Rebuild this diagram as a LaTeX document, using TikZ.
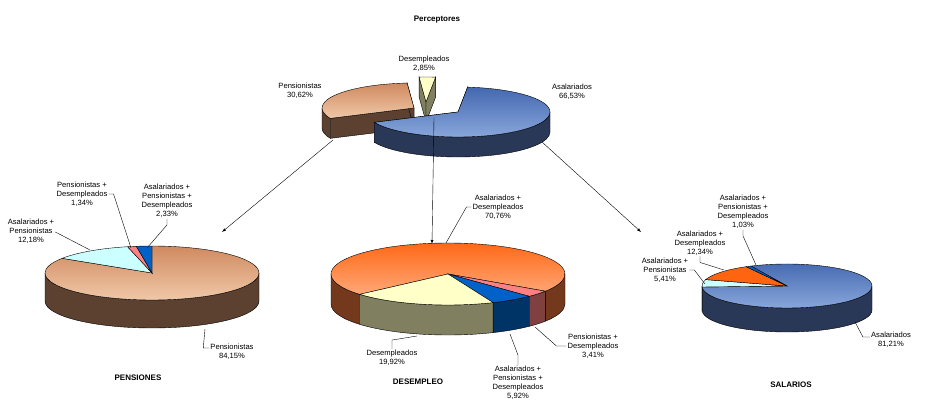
\documentclass[tikz,border=0pt]{standalone}
\usepackage{fontspec}
\setmainfont{Liberation Sans}
\usetikzlibrary{calc}

\tikzset{
  pieline/.style={draw=black, line width=.4pt},
  lbl/.style={font=\fontsize{7.6}{9}\selectfont, align=center, inner sep=1pt},
  ttl/.style={font=\bfseries\fontsize{8}{10}\selectfont, inner sep=1pt},
  leader/.style={line width=.4pt},
}

% radial wall of a slice
\newcommand\piewall[4]{%
  \filldraw[fill=#4,pieline] (#1,#2) -- ({#1+\prx*cos(#3)},{#2+\pry*sin(#3)})
    -- ++(0,\pdep) -- (#1,#2+\pdep) -- cycle;}
% one band of the rim
\newcommand\pieband[5]{%
  \filldraw[fill=#5,pieline] ({#1+\prx*cos(#3)},{#2+\pry*sin(#3)})
    arc[start angle=#3,end angle=#4,x radius=\prx,y radius=\pry] -- ++(0,\pdep)
    arc[start angle=#4,end angle=#3,x radius=\prx,y radius=\pry] -- cycle;}
% visible rim of a slice
\newcommand\pieside[5]{%
  \pgfmathsetmacro\sa{max(#3,0)}\pgfmathsetmacro\sb{min(#4,180)}%
  \pgfmathtruncatemacro\ok{\sb>\sa}%
  \ifnum\ok=1 \pieband{#1}{#2}{\sa}{\sb}{#5}\fi
  \pgfmathsetmacro\sa{max(#3,360)}\pgfmathsetmacro\sb{min(#4,540)}%
  \pgfmathtruncatemacro\ok{\sb>\sa}%
  \ifnum\ok=1 \pieband{#1}{#2}{\sa}{\sb}{#5}\fi}
% top face of a slice
\newcommand\pietop[6]{%
  \draw[pieline,top color=#5,bottom color=#6] (#1,#2)
    -- ({#1+\prx*cos(#3)},{#2+\pry*sin(#3)})
    arc[start angle=#3,end angle=#4,x radius=\prx,y radius=\pry] -- cycle;}

\definecolor{asalT}{HTML}{4468B0}
\definecolor{asalB}{HTML}{8AA8DC}
\definecolor{asalS}{HTML}{2A3858}
\definecolor{pensT}{HTML}{D08A60}
\definecolor{pensB}{HTML}{F0C8A8}
\definecolor{pensS}{HTML}{5C4030}
\definecolor{desT}{HTML}{FFFFC8}
\definecolor{desS}{HTML}{808060}
\definecolor{oraT}{HTML}{FF6410}
\definecolor{oraB}{HTML}{FFA878}
\definecolor{oraS}{HTML}{74381C}
\definecolor{cyaT}{HTML}{CCFFFF}
\definecolor{cyaS}{HTML}{80A0A0}
\definecolor{pinT}{HTML}{FF8080}
\definecolor{pinS}{HTML}{804040}
\definecolor{bluT}{HTML}{0062C8}
\definecolor{bluS}{HTML}{003366}

\begin{document}
\begin{tikzpicture}[x=1pt,y=-1pt,>=latex]
  \useasboundingbox (0,0) rectangle (926,414);

  % Perceptores
  \def\prx{92}\def\pry{25}\def\pdep{20}
  \piewall{414}{108}{155.5}{pensS}
  \piewall{414}{108}{265.7}{pensS}
  \pieside{414}{108}{155.5}{265.7}{pensS}
  \pietop{414}{108}{155.5}{265.7}{pensT}{pensB}
  \piewall{426}{102}{265.7}{desS}
  \piewall{426}{102}{276}{desS}
  \pietop{426}{102}{265.7}{276}{desT}{desT}
  \piewall{458}{112}{276}{asalS}
  \piewall{458}{112}{515.5}{asalS}
  \pieside{458}{112}{276}{515.5}{asalS}
  \pietop{458}{112}{276}{515.5}{asalT}{asalB}

  % Pensiones
  \def\prx{107}\def\pry{27}\def\pdep{28}
  \pieside{152}{273}{270}{572.9}{pensS}
  \pietop{152}{273}{270}{572.9}{pensT}{pensB}
  \pietop{152}{273}{572.9}{616.8}{cyaT}{cyaT}
  \pietop{152}{273}{616.8}{621.6}{pinT}{pinT}
  \pietop{152}{273}{621.6}{630}{bluT}{bluT}

  % Desempleo
  \def\prx{117}\def\pry{31}\def\pdep{30}
  \pieside{448}{274}{139}{393.7}{oraS}
  \pieside{448}{274}{393.7}{406}{pinS}
  \pieside{448}{274}{406}{427.3}{bluS}
  \pieside{448}{274}{427.3}{499}{desS}
  \pietop{448}{274}{139}{393.7}{oraT}{oraB}
  \pietop{448}{274}{393.7}{406}{pinT}{pinT}
  \pietop{448}{274}{406}{427.3}{bluT}{bluT}
  \pietop{448}{274}{427.3}{499}{desT}{desT}

  % Salarios
  \def\prx{85}\def\pry{22}\def\pdep{24}
  \pieside{787}{286}{245}{537.4}{asalS}
  \pieside{787}{286}{537.4}{556.9}{cyaS}
  \pietop{787}{286}{245}{537.4}{asalT}{asalB}
  \pietop{787}{286}{537.4}{556.9}{cyaT}{cyaT}
  \pietop{787}{286}{556.9}{601.3}{oraT}{oraT}
  \pietop{787}{286}{601.3}{605}{bluT}{bluT}

  % titles
  \node[ttl] (tPer) at (437,20) {Perceptores};
  \node[ttl] (tPen) at (138,378) {PENSIONES};
  \node[ttl] (tDes) at (418,382) {DESEMPLEO};
  \node[ttl] (tSal) at (791,385) {SALARIOS};

  % arrows between charts
  \coordinate (aPen0) at (333,140);
  \coordinate (aPen1) at (222,232);
  \coordinate (aDes0) at (434,118);
  \coordinate (aDes1) at (432,244);
  \coordinate (aSal0) at (542,142);
  \coordinate (aSal1) at (641,232);
  \draw[->,leader] (aPen0) -- (aPen1);
  \draw[->,leader] (aDes0) -- (aDes1);
  \draw[->,leader] (aSal0) -- (aSal1);

  % labels Perceptores
  \node[lbl] (lPerPen) at (300,91) {Pensionistas\\30,62\%};
  \node[lbl] (lPerDes) at (424,64) {Desempleados\\2,85\%};
  \node[lbl] (lPerAsa) at (572,92) {Asalariados\\66,53\%};

  % labels Pensiones
  \node[lbl] (lPenPD) at (82,194) {Pensionistas +\\Desempleados\\1,34\%};
  \node[lbl] (lPenAPD) at (167,201) {Asalariados +\\Pensionistas +\\Desempleados\\2,33\%};
  \node[lbl] (lPenAP) at (31,231) {Asalariados +\\Pensionistas\\12,18\%};
  \node[lbl] (lPenP) at (232,352) {Pensionistas\\84,15\%};
  \coordinate (pPenPD) at (131,248);
  \coordinate (pPenAPD) at (147,248);
  \coordinate (pPenAP) at (90,250);
  \coordinate (pPenP) at (205,329);
  \draw[leader] (lPenPD.east) -- ++(5,0) -- (pPenPD);
  \draw[leader] (lPenAPD.south) -- ++(0,6) -- (pPenAPD);
  \draw[leader] (lPenAP.east) ++(0,1) -- (pPenAP);
  \draw[leader] (lPenP.west) ++(0,-4) -- ++(-6,0) -- (pPenP);

  % labels Desempleo
  \node[lbl] (lDesAD) at (498,207) {Asalariados +\\Desempleados\\70,76\%};
  \node[lbl] (lDesD) at (392,358) {Desempleados\\19,92\%};
  \node[lbl] (lDesAPD) at (518,383) {Asalariados +\\Pensionistas +\\Desempleados\\5,92\%};
  \node[lbl] (lDesPD) at (593,346) {Pensionistas +\\Desempleados\\3,41\%};
  \coordinate (pDesAD) at (446,243);
  \coordinate (pDesD) at (417,336);
  \coordinate (pDesAPD) at (510,334);
  \coordinate (pDesPD) at (535,327);
  \draw[leader] (lDesAD.west) -- ++(-5,0) -- (pDesAD);
  \draw[leader] (lDesD.north) -- ++(0,-9) -- (pDesD);
  \draw[leader] (lDesAPD.north) -- ++(0,-10) -- (pDesAPD);
  \draw[leader] (lDesPD.west) -- ++(-10,0) -- (pDesPD);

  % labels Salarios
  \node[lbl] (lSalAPD) at (743,212) {Asalariados +\\Pensionistas +\\Desempleados\\1,03\%};
  \node[lbl] (lSalAD) at (700,243) {Asalariados +\\Desempleados\\12,34\%};
  \node[lbl] (lSalAP) at (665,270) {Asalariados +\\Pensionistas\\5,41\%};
  \node[lbl] (lSalA) at (891,340) {Asalariados\\81,21\%};
  \coordinate (pSalAPD) at (756,265);
  \coordinate (pSalAD) at (724,270);
  \coordinate (pSalAP) at (705,284);
  \coordinate (pSalA) at (855,322);
  \draw[leader] (lSalAPD.south) -- ++(0,6) -- (pSalAPD);
  \draw[leader] (lSalAD.south) -- ++(0,6) -- (pSalAD);
  \draw[leader] (lSalAP.east) -- ++(5,0) -- (pSalAP);
  \draw[leader] (lSalA.west) ++(0,-3) -- ++(-7,0) -- (pSalA);
\end{tikzpicture}
\end{document}
